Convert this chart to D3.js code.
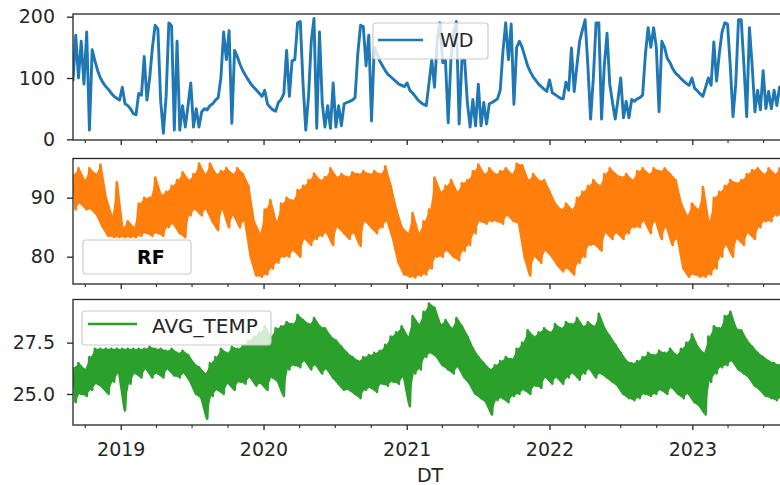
<!DOCTYPE html>
<html>
<head>
<meta charset="utf-8">
<script src="https://cdn.jsdelivr.net/npm/d3@7"></script>
<style>
body { margin: 0; background: #fff; }
svg text { font-family: "DejaVu Sans", sans-serif; fill: #262626; }
</style>
</head>
<body>
<div class="chart"></div>
<script>
// weekly readings, first week starts 2018-09-01
var wdValues = [
    95, 170, 100, 160, 90, 175, 15, 146, 128, 112,
    100, 92, 86, 81, 75, 70, 67, 64, 85, 58,
    55, 50, 42, 40, 75, 72, 135, 64, 100, 150,
    186, 180, 64, 10, 70, 190, 185, 15, 160, 15,
    55, 20, 55, 92, 20, 50, 20, 45, 50, 48,
    55, 58, 64, 68, 100, 175, 130, 177, 26, 145,
    135, 122, 112, 104, 97, 90, 85, 80, 75, 70,
    80, 58, 52, 48, 46, 60, 65, 75, 145, 70,
    128, 130, 190, 192, 90, 15, 70, 160, 197, 18,
    175, 60, 20, 55, 18, 92, 20, 55, 22, 58,
    60, 62, 64, 68, 140, 186, 184, 120, 170, 30,
    150, 140, 128, 120, 112, 106, 102, 98, 94, 90,
    88, 86, 92, 80, 75, 70, 64, 60, 57, 55,
    92, 130, 85, 162, 190, 125, 129, 27, 130, 175,
    192, 25, 129, 130, 60, 20, 65, 22, 90, 22,
    60, 25, 58, 60, 63, 66, 80, 144, 190, 130,
    188, 57, 150, 160, 150, 135, 120, 110, 102, 96,
    90, 86, 82, 78, 97, 76, 73, 70, 67, 66,
    93, 80, 149, 78, 120, 160, 178, 195, 120, 33,
    100, 190, 190, 33, 120, 173, 90, 60, 33, 65,
    100, 35, 62, 35, 65, 62, 66, 68, 72, 138,
    182, 150, 182, 150, 45, 160, 150, 132, 125, 115,
    108, 104, 99, 95, 91, 88, 100, 83, 79, 74,
    70, 85, 100, 88, 159, 95, 140, 175, 190, 188,
    120, 37, 90, 195, 195, 120, 37, 182, 120, 45,
    80, 48, 112, 50, 78, 50, 80, 55, 85, 70,
    88
];

// two-week highs and lows
var rfHigh = [
    94, 95, 93, 95, 94, 95.6, 90, 87, 92.6, 85,
    86, 85, 89, 90, 90, 93.4, 90.5, 91, 92, 93,
    94.3, 93, 94, 95.8, 94, 95.8, 94, 94.5, 95, 94,
    95, 94, 92, 86, 84, 88, 89.6, 86, 89, 90,
    89.5, 91.3, 92, 93, 94.1, 93, 93.5, 95, 93.5, 94,
    93.5, 94.3, 94, 94.5, 94, 94.5, 94, 95.3, 92, 88,
    85, 84, 87.4, 84, 86, 88, 93.4, 91, 92, 93,
    91, 92.5, 93, 94.5, 95.6, 94, 95, 94, 94.5, 95,
    94, 95.8, 95.5, 93, 94, 92.9, 93, 91, 89, 88,
    89, 88, 90, 91, 92, 93, 92, 94, 95, 94,
    93.5, 94, 93, 94.5, 95, 94, 95, 94.5, 95, 94,
    93, 89, 87, 89, 88, 91.8, 86, 90, 91, 92,
    93, 92.5, 93, 94, 94.7, 95, 94, 95, 94, 95,
    94
];
var rfLow = [
    88, 89, 88, 88, 87, 85, 83.5, 83.3, 83.3, 83.3,
    83.3, 83.3, 83.5, 84, 83.5, 84, 83.5, 85, 85.5, 84,
    83.3, 87, 88, 87, 88, 86, 84.5, 88, 85, 87,
    85, 86, 80, 76.8, 76.6, 77, 78, 79, 80, 80,
    81, 80, 83, 82, 83, 83.5, 84, 82, 85, 84,
    83, 84, 81.8, 86, 85, 84, 85, 86, 83, 79,
    77, 76.6, 76.5, 76.8, 77, 78, 80, 80, 81, 80,
    79.4, 81, 82, 84, 86, 85.6, 86, 86, 85.6, 87,
    86, 85.6, 80, 76.8, 80, 79, 81, 80, 78.6, 77.5,
    78, 77, 79, 80, 82, 82, 81, 84, 83, 84,
    83, 84, 85, 85, 86, 84, 86, 83, 85, 82,
    83, 78, 76.6, 77, 76.6, 76.6, 77, 78, 80, 82,
    80, 83, 82, 84, 83, 85, 86, 86, 87, 87,
    88
];

var tempHigh = [
    26.3, 26.5, 26.2, 26.8, 27.2, 27.2, 27.2, 27.2, 27.2, 27.2,
    27.2, 27.2, 27.2, 27.2, 27.3, 27.2, 27.2, 27.1, 27.2, 27.0,
    27.1, 26.9, 26.5, 26.3, 26.0, 26.5, 26.8, 27.2, 27.0, 27.3,
    27.2, 27.4, 27.6, 27.8, 28.0, 28.3, 27.8, 28.2, 28.3, 28.5,
    28.4, 28.85, 28.6, 28.4, 28.7, 28.3, 28.2, 27.8, 27.6, 27.3,
    27.0, 26.8, 26.6, 26.8, 26.9, 27.0, 27.1, 27.4, 27.8, 28.0,
    28.3, 27.8, 28.8, 28.4, 29.0, 29.4, 29.2, 28.4, 28.6, 28.2,
    28.7, 28.3, 27.8, 27.2, 26.8, 26.5, 26.2, 26.4, 26.6, 26.8,
    26.7, 27.2, 27.5, 28.1, 27.8, 28.0, 28.2, 28.0, 28.4, 28.2,
    28.5, 28.4, 28.7, 28.3, 28.5, 28.3, 28.9, 28.2, 27.8, 27.4,
    27.0, 26.6, 26.5, 26.6, 26.8, 27.0, 26.9, 27.1, 27.0, 27.2,
    26.9, 27.2, 27.5, 27.9, 27.3, 27.0, 27.8, 28.3, 28.2, 28.8,
    29.0, 28.2, 28.1, 27.6, 27.3, 27.0, 26.8, 26.6, 26.5, 26.4,
    26.2
];
var tempLow = [
    24.6, 25.0, 24.9, 25.2, 25.5, 25.3, 25.0, 25.6, 26.0, 24.2,
    25.5, 26.0, 25.8, 26.2, 25.8, 26.0, 25.8, 26.2, 25.9, 25.8,
    26.0, 25.6, 25.0, 24.8, 23.8, 24.9, 25.2, 25.0, 25.5, 25.2,
    25.6, 25.5, 25.8, 25.4, 25.5, 25.2, 25.8, 25.6, 24.9, 26.2,
    26.4, 26.3, 26.6, 26.2, 26.4, 26.0, 26.2, 25.8, 25.5, 25.2,
    25.2, 25.0, 24.8, 25.2, 25.3, 25.1, 25.5, 25.4, 25.6, 25.5,
    25.8, 24.4, 26.0, 26.2, 26.8, 27.0, 26.8, 26.4, 26.2, 26.0,
    26.3, 25.8, 25.5, 25.0, 24.8, 24.6, 24.0, 24.7, 24.8, 24.6,
    24.9, 25.0, 25.2, 25.0, 25.4, 25.3, 25.8, 25.5, 25.8, 25.5,
    25.8, 26.0, 25.7, 26.0, 26.2, 25.8, 26.0, 25.8, 25.6, 25.4,
    25.0, 24.8, 24.7, 24.8, 25.0, 24.9, 25.0, 25.2, 25.0, 25.3,
    25.0, 24.8, 25.0, 24.6, 24.4, 24.0, 25.6, 26.0, 26.3, 26.4,
    26.6, 26.2, 26.0, 25.8, 25.4, 25.2, 24.9, 24.8, 24.7, 24.8,
    24.7
];

var wdTicks = [0, 100, 200];
var rfTicks = [80, 90];
var tempTicks = [25.0, 27.5];
var yearLabels = ["2019", "2020", "2021", "2022", "2023"];

var width = 780;
var height = 485;
var left = 73;
var right = 787;
var parse = d3.timeParse("%Y-%m-%d");
var startDate = parse("2018-09-01");
var endDate = parse("2023-08-31");

//////// build the series on a weekly grid
function weekly(values) {
    return values.map(function(v, i) {
        return { date: d3.timeDay.offset(startDate, 7 * i), value: v };
    });
}

function highLow(high, low) {
    var out = [];
    high.forEach(function(h, j) {
        out.push({ date: d3.timeDay.offset(startDate, 14 * j), value: h });
        out.push({ date: d3.timeDay.offset(startDate, 14 * j + 7), value: low[j] });
    });
    return out;
}

function band(high, low) {
    return high.map(function(h, j) {
        return { date: d3.timeDay.offset(startDate, 14 * j + 3.5), high: h, low: low[j] };
    });
}

var panels = [
    { name: "WD", data: weekly(wdValues), color: "#1f77b4", top: 14, bottom: 140,
      domain: [-1.1, 204.4], ticks: wdTicks, format: d3.format("d") },
    { name: "RF", data: highLow(rfHigh, rfLow), band: band(rfHigh, rfLow), color: "#ff7f0e",
      top: 158.5, bottom: 284, domain: [75.37, 96.64], ticks: rfTicks, format: d3.format("d") },
    { name: "AVG_TEMP", data: highLow(tempHigh, tempLow), band: band(tempHigh, tempLow), color: "#2ca02c",
      top: 299.5, bottom: 425, domain: [23.49, 29.6], ticks: tempTicks, format: d3.format(".1f") }
];

var x = d3.scaleTime().domain([startDate, endDate]).range([left, right]);

var yearDates = yearLabels.map(function(y) { return parse(y + "-01-01"); });
var quarterDates = d3.timeMonth.every(3).range(startDate, endDate)
    .filter(function(d) { return d.getMonth() !== 0; });

var svg = d3.select(".chart")
    .append("svg")
    .attr("width", width)
    .attr("height", height);

panels.forEach(function(p, k) {
    var y = d3.scaleLinear().domain(p.domain).range([p.bottom, p.top]);

    svg.append("clipPath")
        .attr("id", "clip" + k)
        .append("rect")
        .attr("x", left)
        .attr("y", p.top)
        .attr("width", right - left)
        .attr("height", p.bottom - p.top);

    // dense daily swings drawn as a filled band between the highs and lows
    if (p.band) {
        var area = d3.area()
            .x(function(d) { return x(d.date); })
            .y0(function(d) { return y(d.low); })
            .y1(function(d) { return y(d.high); });
        svg.append("path")
            .datum(p.band)
            .attr("d", area)
            .attr("fill", p.color)
            .attr("clip-path", "url(#clip" + k + ")");
    }

    var line = d3.line()
        .x(function(d) { return x(d.date); })
        .y(function(d) { return y(d.value); });

    svg.append("path")
        .datum(p.data)
        .attr("d", line)
        .attr("fill", "none")
        .attr("stroke", p.color)
        .attr("stroke-width", k === 0 ? 2.9 : 2.6)
        .attr("stroke-linejoin", "round")
        .attr("clip-path", "url(#clip" + k + ")");

    // y axis
    var yAxis = svg.append("g")
        .attr("transform", "translate(" + left + ",0)")
        .call(d3.axisLeft(y).tickValues(p.ticks).tickFormat(p.format)
            .tickSize(6).tickPadding(12));
    yAxis.select(".domain").remove();
    yAxis.selectAll("line").attr("stroke", "#262626").attr("stroke-width", 1.3);
    yAxis.selectAll("text").attr("font-size", "19px").style("font-family", "DejaVu Sans");

    // x axis, major years and minor quarters
    var xMajor = svg.append("g")
        .attr("transform", "translate(0," + p.bottom + ")")
        .call(d3.axisBottom(x).tickValues(yearDates).tickSize(5)
            .tickFormat(k === 2 ? d3.timeFormat("%Y") : function() { return ""; }));
    xMajor.select(".domain").remove();
    xMajor.selectAll("line").attr("stroke", "#262626").attr("stroke-width", 1.3);
    xMajor.selectAll("text")
        .attr("font-size", "19px")
        .attr("dy", null)
        .attr("y", 31)
        .style("font-family", "DejaVu Sans");

    var xMinor = svg.append("g")
        .attr("transform", "translate(0," + p.bottom + ")")
        .call(d3.axisBottom(x).tickValues(quarterDates).tickSize(3).tickFormat(""));
    xMinor.select(".domain").remove();
    xMinor.selectAll("line").attr("stroke", "#262626").attr("stroke-width", 1.1);

    // spines
    svg.append("rect")
        .attr("x", left)
        .attr("y", p.top)
        .attr("width", right - left)
        .attr("height", p.bottom - p.top)
        .attr("fill", "none")
        .attr("stroke", "#262626")
        .attr("stroke-width", 1.3);
});

//////// legends
function legendBox(x0, y0, w, h) {
    return svg.append("rect")
        .attr("x", x0).attr("y", y0)
        .attr("width", w).attr("height", h)
        .attr("rx", 3)
        .attr("fill", "#fff")
        .attr("fill-opacity", 0.8)
        .attr("stroke", "#cccccc")
        .attr("stroke-width", 1.2);
}

// WD, upper centre
legendBox(373, 23, 115, 36);
svg.append("line")
    .attr("x1", 378).attr("x2", 423).attr("y1", 40).attr("y2", 40)
    .attr("stroke", panels[0].color).attr("stroke-width", 2.6);
svg.append("text").attr("x", 440).attr("y", 47).attr("font-size", "19px").text("WD");

// RF, lower left
legendBox(83, 240, 108, 34);
svg.append("text").attr("x", 137).attr("y", 264)
    .attr("font-size", "19px").attr("font-weight", "bold").style("fill", "#000").text("RF");

// AVG_TEMP, upper left
legendBox(82, 311, 189, 34);
svg.append("line")
    .attr("x1", 88).attr("x2", 137).attr("y1", 324).attr("y2", 324)
    .attr("stroke", panels[2].color).attr("stroke-width", 2.6);
svg.append("text").attr("x", 152).attr("y", 333).attr("font-size", "20px").text("AVG_TEMP");

// x label
svg.append("text")
    .attr("x", 430).attr("y", 482)
    .attr("text-anchor", "middle")
    .attr("font-size", "19px")
    .text("DT");
</script>
</body>
</html>
